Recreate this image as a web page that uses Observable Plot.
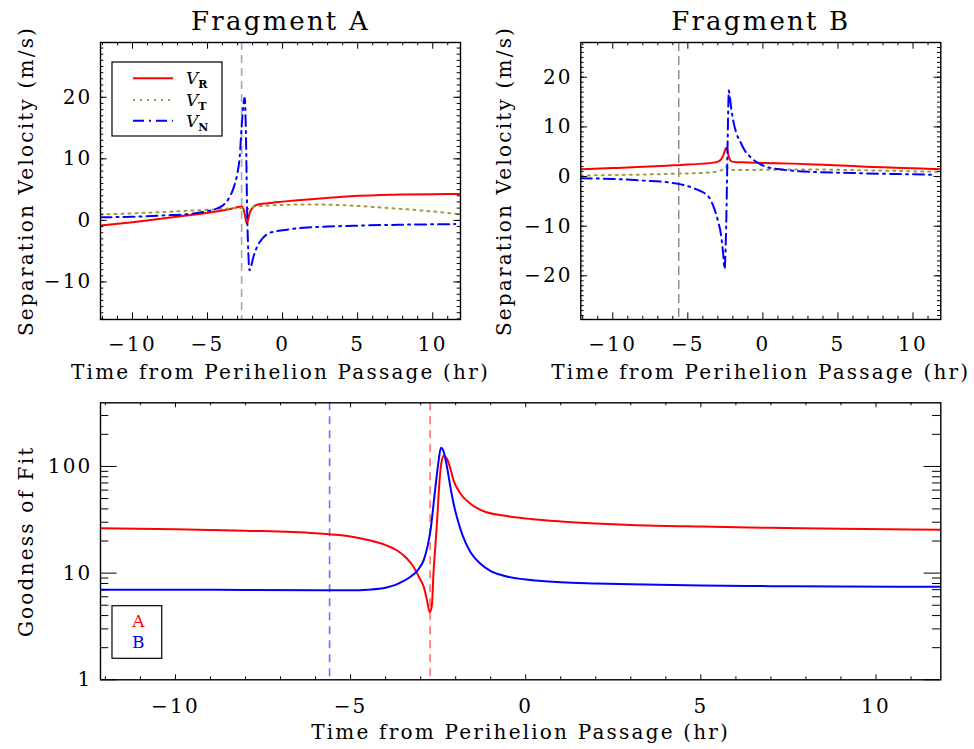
<!DOCTYPE html>
<html><head><meta charset="utf-8">
<script src="https://cdn.jsdelivr.net/npm/d3@7"></script>
<script src="https://cdn.jsdelivr.net/npm/@observablehq/plot@0.6"></script>
<style>
html,body{margin:0;padding:0;background:#fff;}
#wrap{position:relative;width:974px;height:749px;overflow:hidden;background:#fff;}
#wrap > svg{position:absolute;}
</style></head><body><div id="wrap"></div>
<script>
// ---------- Data ----------
const titles = ["Fragment A", "Fragment B"];
const xLabel = "Time from Perihelion Passage (hr)";
const yLabelTop = "Separation Velocity (m/s)";
const yLabelBottom = "Goodness of Fit";
const seriesNames = ["R", "T", "N"];
const fitNames = ["A", "B"];

// Fragment A
const aRt = [-12.13,-10,-8,-6,-4,-3.2,-2.85,-2.72,-2.62,-2.52,-2.44,-2.37,-2.3,-2.22,-2.1,-1.9,-1.7,-1,0,1,2.5,4,5,6.5,8,10,11.85];
const aRv = [-0.85,-0.3,0.3,0.9,1.6,2.0,2.2,2.2,1.9,1.0,-0.1,-0.55,0.1,1.0,1.7,2.3,2.55,2.8,3.05,3.27,3.55,3.85,4.0,4.12,4.2,4.26,4.3];
const aTt = [-12.13,-10,-8,-6,-4,-3,-2.65,-2.45,-2.25,-1.9,-1,0,1.4,3,5,6.5,8,10,11.85];
const aTv = [0.95,1.15,1.35,1.6,1.85,2.05,1.95,1.6,1.95,2.2,2.4,2.5,2.6,2.55,2.35,2.1,1.85,1.45,1.0];
const aNt = [-12.13,-10,-8,-6,-5,-4.5,-4,-3.6,-3.25,-3.0,-2.85,-2.73,-2.62,-2.55,-2.51,-2.47,-2.42,-2.38,-2.35,-2.3,-2.25,-2.2,-2.1,-1.95,-1.7,-1.4,-1.0,-0.5,0,1.4,3,5,8,11.5];
const aNv = [0.5,0.6,0.8,1.1,1.5,1.8,2.4,3.5,5.4,7.8,10.5,15.2,18.5,19.8,19.9,17,11,4,0,-4,-7,-8.1,-7.5,-6,-4.3,-3.1,-2.2,-1.8,-1.6,-1.2,-1.0,-0.85,-0.7,-0.6];
const markerA = [-2.73];

// Fragment B
const bRt = [-12.13,-10,-8,-6,-5,-4,-3.3,-3.0,-2.8,-2.65,-2.52,-2.45,-2.38,-2.3,-2.2,-2.05,-1.8,-1,0,2,4,6,8,10,11.85];
const bRv = [1.45,1.7,1.95,2.25,2.4,2.6,2.8,3.0,3.4,4.2,5.3,5.8,5.5,4.4,3.4,3.0,2.9,2.85,2.75,2.6,2.35,2.1,1.85,1.65,1.45];
const bTt = [-12.13,-10,-8,-6,-4,-3,-2.6,-2.45,-2.3,-2.0,-1,0,2,4,6,8,10,11.85];
const bTv = [0.2,0.3,0.4,0.55,0.75,1.0,1.6,2.0,1.6,1.3,1.3,1.35,1.4,1.4,1.3,1.2,1.05,0.95];
const bNt = [-12.13,-10,-8,-6,-5.15,-4.5,-3.83,-3.5,-3.27,-3.0,-2.77,-2.65,-2.55,-2.48,-2.42,-2.37,-2.32,-2.27,-2.2,-2.1,-1.93,-1.75,-1.49,-1.2,-0.82,-0.3,0.29,1.0,1.85,3.85,6,8,10,11.5];
const bNv = [-0.35,-0.5,-0.8,-1.3,-1.8,-2.5,-3.5,-4.6,-6.2,-8.85,-12.2,-15.5,-18.6,-14,-6,3.2,12,17.3,16,13.5,10.6,8.6,6.9,5.2,3.9,2.7,1.9,1.5,1.2,0.87,0.7,0.55,0.45,0.33];
const markerB = [-5.6];

// Goodness of fit
const fAt = [-12.14,-10,-8,-6,-5,-4.44,-4,-3.67,-3.4,-3.2,-3.05,-2.91,-2.82,-2.74,-2.68,-2.63,-2.58,-2.53,-2.46,-2.4,-2.34,-2.25,-2.15,-2.06,-1.9,-1.58,-1.2,-0.63,0.13,1,2,3,5,7,9,11.85];
const fAv = [26.4,25.8,25,23.6,22,20.2,18.3,16.3,13.8,11.4,9.2,7.4,5.6,4.3,5.0,10.5,18,31,74,112,126,118,95,74,58,44.7,38,34.7,32.2,30.5,29.2,28.3,27.3,26.6,26,25.5];
const fBt = [-12.14,-10,-8,-6,-5,-4.5,-4,-3.7,-3.5,-3.3,-3.1,-2.91,-2.8,-2.72,-2.6,-2.5,-2.42,-2.35,-2.25,-2.15,-2.06,-1.96,-1.8,-1.58,-1.3,-1.01,-0.6,0.13,1,2,3,5,7,9,11.85];
const fBv = [7.0,7.0,6.95,6.9,6.9,7.0,7.3,7.8,8.4,9.2,10.5,13.3,18,25,55,105,150,140,100,64,45,33,22.5,15.8,12.3,10.5,9.4,8.6,8.2,8.0,7.85,7.65,7.55,7.5,7.45];

// Ticks
const xMajor = [-10,-5,0,5,10];
const xMinor = [-12,-11,-9,-8,-7,-6,-4,-3,-2,-1,1,2,3,4,6,7,8,9,11];
const yMajorA = [-10,0,10,20];
const yMajorB = [-20,-10,0,10,20];
const yMajorF = [1,10,100];
const yMinorF = [2,3,4,5,6,7,8,9,20,30,40,50,60,70,80,90,200,300];

// ---------- Helpers ----------
const FONT = "DejaVu Serif";
const fmt = d => d < 0 ? "\u2212" + Math.abs(d) : String(d);
const rows = (t, v) => t.map((x, i) => ({t: x, v: v[i]}));
const within = (arr, dom) => arr.filter(v => v >= Math.min(...dom) && v <= Math.max(...dom));
const seriesStyle = {
  R: {stroke: "#ff0000", strokeWidth: 2},
  T: {stroke: "#9c9c3c", strokeWidth: 2, strokeDasharray: "2,5"},
  N: {stroke: "#0000ff", strokeWidth: 2, strokeDasharray: "11,5,2,5"}
};
const baseStyle = {fontFamily: FONT, fontSize: "20px", letterSpacing: "2.2px", color: "black", background: "transparent", overflow: "visible"};

function tickMarks(xDom, yDom, fw, fh, xMaj, xMin, yMaj, yMin, lx, sx, ly, sy) {
  const m = [];
  const xs = [[within(xMaj, xDom), lx], [within(xMin, xDom), sx]];
  const ys = [[within(yMaj, yDom), ly], [within(yMin, yDom), sy]];
  for (const [arr, len] of xs) {
    m.push(Plot.tickX(arr, {x: d => d, insetTop: fh - len, stroke: "black", strokeWidth: 1}));
    m.push(Plot.tickX(arr, {x: d => d, insetBottom: fh - len, stroke: "black", strokeWidth: 1}));
  }
  for (const [arr, len] of ys) {
    m.push(Plot.tickY(arr, {y: d => d, insetRight: fw - len, stroke: "black", strokeWidth: 1}));
    m.push(Plot.tickY(arr, {y: d => d, insetLeft: fw - len, stroke: "black", strokeWidth: 1}));
  }
  return m;
}

function topPanel({title, data, marker, markerStyle, yDomain, yMajor, mLeft, mRight, ylDx}) {
  const W = 487, H = 390, mTop = 42, mBottom = 71;
  const fw = W - mLeft - mRight, fh = H - mTop - mBottom;
  const xDom = [-12.13, 11.85];
  const yMinor = d3.range(Math.ceil(yDomain[0]), Math.floor(yDomain[1]) + 1);
  return Plot.plot({
    width: W, height: H,
    marginLeft: mLeft, marginRight: mRight, marginTop: mTop, marginBottom: mBottom,
    style: baseStyle,
    x: {domain: xDom, ticks: xMajor, tickSize: 0, tickPadding: 17, tickFormat: fmt, label: null},
    y: {domain: yDomain, ticks: yMajor, tickSize: 0, tickPadding: 8, tickFormat: fmt, label: null},
    marks: [
      Plot.ruleX(marker, {x: d => d, ...markerStyle}),
      ...seriesNames.map(k => Plot.line(data[k], {x: "t", y: "v", curve: "monotone-x", clip: true, ...seriesStyle[k]})),
      ...tickMarks(xDom, yDomain, fw, fh, xMajor, xMinor, yMajor, yMinor, 6.7, 3.3, 6.7, 3.3),
      Plot.frame({stroke: "black", strokeWidth: 1.4}),
      Plot.text([title], {text: d => d, frameAnchor: "top", textAnchor: "middle", dy: -13, lineAnchor: "bottom", fontSize: 26}),
      Plot.text([xLabel], {text: d => d, frameAnchor: "bottom", textAnchor: "middle", dy: 59, lineAnchor: "bottom", fontSize: 20}),
      Plot.text([yLabelTop], {text: d => d, frameAnchor: "left", textAnchor: "middle", dx: ylDx, rotate: -90, lineAnchor: "bottom", fontSize: 20})
    ]
  });
}

const wrap = document.getElementById("wrap");

const pA = topPanel({
  title: titles[0],
  data: {R: rows(aRt, aRv), T: rows(aTt, aTv), N: rows(aNt, aNv)},
  marker: markerA,
  markerStyle: {stroke: "#a8a8a8", strokeWidth: 1.6, strokeDasharray: "8,5"},
  yDomain: [-16.1, 28.9], yMajor: yMajorA, mLeft: 100, mRight: 27, ylDx: -68
});
pA.style.left = "0px"; pA.style.top = "0px";
wrap.appendChild(pA);

const pB = topPanel({
  title: titles[1],
  data: {R: rows(bRt, bRv), T: rows(bTt, bTv), N: rows(bNt, bNv)},
  marker: markerB,
  markerStyle: {stroke: "#555555", strokeWidth: 1, strokeDasharray: "9,5"},
  yDomain: [-28.8, 27], yMajor: yMajorB, mLeft: 93.3, mRight: 33.7, ylDx: -70
});
pB.style.left = "487px"; pB.style.top = "0px";
wrap.appendChild(pB);

// Bottom panel
{
  const W = 974, H = 359, mLeft = 100, mRight = 33.7, mTop = 12.3, mBottom = 69.7;
  const fw = W - mLeft - mRight, fh = H - mTop - mBottom;
  const xDom = [-12.14, 11.85], yDom = [1, 395];
  const p = Plot.plot({
    width: W, height: H,
    marginLeft: mLeft, marginRight: mRight, marginTop: mTop, marginBottom: mBottom,
    style: baseStyle,
    x: {domain: xDom, ticks: xMajor, tickSize: 0, tickPadding: 19, tickFormat: fmt, label: null},
    y: {type: "log", domain: yDom, ticks: yMajorF, tickSize: 0, tickPadding: 8, tickFormat: d => String(d), label: null},
    marks: [
      Plot.ruleX(markerB, {x: d => d, stroke: "#7070ff", strokeWidth: 1.6, strokeDasharray: "8,6"}),
      Plot.ruleX(markerA, {x: d => d, stroke: "#ff7070", strokeWidth: 1.6, strokeDasharray: "8,6"}),
      Plot.line(rows(fAt, fAv), {x: "t", y: "v", curve: "monotone-x", clip: true, stroke: "#ff0000", strokeWidth: 2}),
      Plot.line(rows(fBt, fBv), {x: "t", y: "v", curve: "monotone-x", clip: true, stroke: "#0000ff", strokeWidth: 2}),
      ...tickMarks(xDom, yDom, fw, fh, xMajor, xMinor, yMajorF, yMinorF, 5, 3, 16.7, 8.3),
      Plot.frame({stroke: "black", strokeWidth: 1.4}),
      Plot.text([xLabel], {text: d => d, frameAnchor: "bottom", textAnchor: "middle", dy: 59, lineAnchor: "bottom", fontSize: 20}),
      Plot.text([yLabelBottom], {text: d => d, frameAnchor: "left", textAnchor: "middle", dx: -68, rotate: -90, lineAnchor: "bottom", fontSize: 20})
    ]
  });
  p.style.left = "0px"; p.style.top = "390px";
  wrap.appendChild(p);
}

// Legends (overlay SVG)
{
  const svg = d3.select(wrap).append("svg")
    .attr("width", 974).attr("height", 749)
    .style("left", "0px").style("top", "0px")
    .style("font-family", FONT);
  svg.append("rect").attr("x", 112).attr("y", 62).attr("width", 110).attr("height", 74)
    .attr("fill", "white").attr("stroke", "black").attr("stroke-width", 1.2);
  const rowsY = [78.3, 100, 120.7];
  seriesNames.forEach((k, i) => {
    const s = seriesStyle[k];
    svg.append("line").attr("x1", 133).attr("x2", 173).attr("y1", rowsY[i]).attr("y2", rowsY[i])
      .attr("stroke", s.stroke).attr("stroke-width", s.strokeWidth)
      .attr("stroke-dasharray", s.strokeDasharray || null);
    const t = svg.append("text").attr("x", 186).attr("y", rowsY[i] + 6).attr("font-size", 17);
    t.append("tspan").attr("font-style", "italic").text("V");
    t.append("tspan").attr("font-size", 11).attr("font-weight", "bold").attr("dy", 4).text(k);
  });
  svg.append("rect").attr("x", 112).attr("y", 605.7).attr("width", 49.7).attr("height", 52.6)
    .attr("fill", "white").attr("stroke", "black").attr("stroke-width", 1.2);
  const fitColors = ["#ff0000", "#0000ff"];
  const fitY = [627.3, 648.3];
  fitNames.forEach((n, i) => {
    svg.append("text").attr("x", 138.3).attr("y", fitY[i]).attr("text-anchor", "middle")
      .attr("font-size", 17).attr("fill", fitColors[i]).text(n);
  });
}
</script></body></html>
